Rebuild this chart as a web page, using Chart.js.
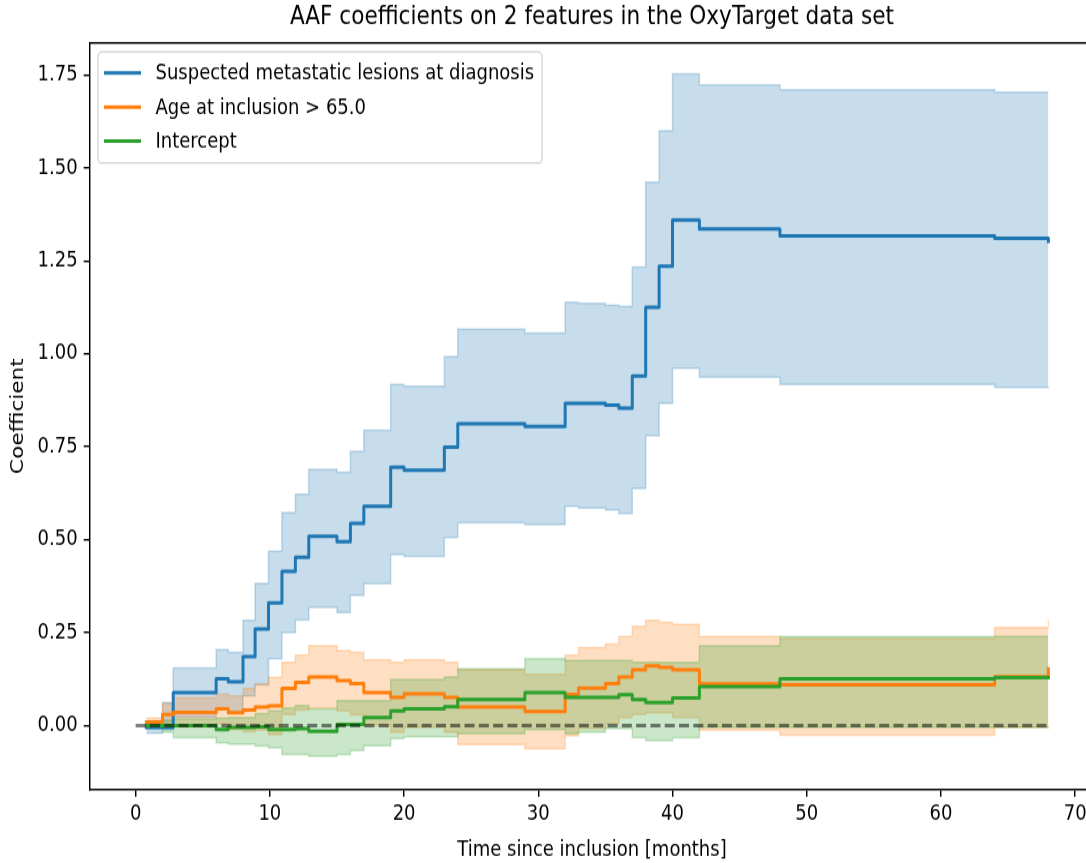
<!DOCTYPE html>
<html>
<head>
<meta charset="utf-8">
<title>AAF coefficients</title>
<script src="https://cdn.jsdelivr.net/npm/chart.js@4.4.0/dist/chart.umd.min.js"></script>
<style>
  html, body { margin: 0; padding: 0; background: #fff; overflow: hidden; width: 1086px; height: 863px; }
  /* the figure is laid out at 1100x719 and shown stretched to the full window height */
  #figure { position: absolute; left: 0; top: 0; width: 1100px; height: 719px;
            transform: scaleY(1.2003); transform-origin: 0 0; }
  canvas { display: block; }
</style>
</head>
<body>
<div id="figure"><canvas id="aaf" width="1100" height="719"></canvas></div>
<script>
// Event times (months) shared by every cumulative coefficient
const months = [0.8, 2.0, 2.8, 6.0, 6.9, 8.0, 8.9, 9.9, 10.9, 11.9, 12.9, 15.0, 16.0, 17.0, 19.0,
                20.0, 23.0, 24.0, 29.0, 32.0, 33.0, 35.0, 36.0, 37.0, 38.0, 39.0, 40.0, 42.0, 48.0, 64.0, 68.0];

// Suspected metastatic lesions at diagnosis
const metastaticCoef  = [-0.005, -0.005, 0.089, 0.126, 0.118, 0.186, 0.260, 0.330, 0.415, 0.453, 0.509, 0.495, 0.544, 0.590, 0.695,
                         0.687, 0.749, 0.812, 0.805, 0.867, 0.867, 0.862, 0.854, 0.940, 1.125, 1.236, 1.360, 1.336, 1.317, 1.311, 1.303];
const metastaticUpper = [0.010, 0.062, 0.155, 0.204, 0.197, 0.283, 0.383, 0.469, 0.573, 0.622, 0.689, 0.681, 0.738, 0.794, 0.918,
                         0.913, 0.993, 1.066, 1.056, 1.139, 1.136, 1.131, 1.128, 1.233, 1.462, 1.600, 1.753, 1.723, 1.710, 1.704, 1.704];
const metastaticLower = [-0.020, -0.010, 0.023, 0.048, 0.039, 0.080, 0.110, 0.180, 0.250, 0.284, 0.318, 0.304, 0.350, 0.382, 0.460,
                         0.455, 0.506, 0.546, 0.541, 0.590, 0.585, 0.580, 0.571, 0.638, 0.780, 0.867, 0.961, 0.937, 0.918, 0.910, 0.907];

// Age at inclusion > 65.0
const ageCoef  = [0.010, 0.030, 0.036, 0.045, 0.035, 0.042, 0.050, 0.053, 0.100, 0.116, 0.131, 0.121, 0.113, 0.089, 0.076,
                  0.086, 0.076, 0.050, 0.038, 0.084, 0.101, 0.113, 0.131, 0.150, 0.161, 0.157, 0.150, 0.112, 0.110, 0.132, 0.153];
const ageUpper = [0.020, 0.060, 0.075, 0.085, 0.080, 0.100, 0.112, 0.130, 0.170, 0.190, 0.215, 0.202, 0.197, 0.177, 0.170,
                  0.177, 0.170, 0.150, 0.138, 0.190, 0.210, 0.220, 0.240, 0.267, 0.283, 0.278, 0.272, 0.240, 0.235, 0.264, 0.285];
const ageLower = [0.000, 0.000, -0.003, 0.005, -0.010, -0.016, -0.012, -0.024, 0.030, 0.042, 0.047, 0.040, 0.029, 0.001, -0.018,
                  -0.005, -0.018, -0.051, -0.062, -0.027, -0.008, 0.006, 0.022, 0.030, 0.035, 0.035, 0.022, -0.012, -0.026, -0.005, -0.008];

// Intercept
const interceptCoef  = [0.000, 0.000, 0.000, -0.010, -0.005, -0.005, -0.003, -0.010, -0.010, -0.008, -0.015, 0.003, 0.003, 0.022, 0.040,
                        0.045, 0.051, 0.070, 0.089, 0.076, 0.076, 0.076, 0.083, 0.070, 0.062, 0.062, 0.074, 0.105, 0.126, 0.129, 0.129];
const interceptUpper = [0.008, 0.015, 0.018, 0.020, 0.022, 0.022, 0.032, 0.040, 0.048, 0.054, 0.045, 0.067, 0.067, 0.067, 0.124,
                        0.124, 0.131, 0.153, 0.180, 0.175, 0.175, 0.175, 0.175, 0.170, 0.170, 0.170, 0.170, 0.215, 0.240, 0.240, 0.240];
const interceptLower = [-0.008, -0.018, -0.032, -0.046, -0.050, -0.050, -0.055, -0.060, -0.077, -0.077, -0.082, -0.077, -0.067, -0.054, -0.035,
                        -0.030, -0.030, -0.022, -0.010, -0.022, -0.018, -0.008, -0.008, -0.032, -0.040, -0.040, -0.032, -0.005, -0.005, -0.005, -0.005];

// Zero reference line span and tick labels
const baselineSpan = [0, 68];
const xTicks = [0, 10, 20, 30, 40, 50, 60, 70];
const yTicks = [0.00, 0.25, 0.50, 0.75, 1.00, 1.25, 1.50, 1.75];

const seriesNames = ['Suspected metastatic lesions at diagnosis', 'Age at inclusion > 65.0', 'Intercept'];
const chartTitle = 'AAF coefficients on 2 features in the OxyTarget data set';
const xTitle = 'Time since inclusion [months]';
const yTitle = 'Coefficient';

// ---- styling ----
const palette = [[31, 119, 180], [255, 127, 14], [44, 160, 44]];
const rgba = (c, a) => `rgba(${c[0]},${c[1]},${c[2]},${a})`;
const FONT = "'DejaVu Sans', 'Liberation Sans', sans-serif";
const LW = 3.0;

const toPoints = (ys) => months.map((m, i) => ({ x: m, y: ys[i] }));

const series = [
  { coef: metastaticCoef, upper: metastaticUpper, lower: metastaticLower },
  { coef: ageCoef,        upper: ageUpper,        lower: ageLower },
  { coef: interceptCoef,  upper: interceptUpper,  lower: interceptLower }
];

const datasets = [];
// confidence bands (drawn beneath every line, blue first)
series.forEach((s, k) => {
  const c = palette[k];
  const bandOrder = 30 - k * 10;
  datasets.push({
    label: seriesNames[k] + ' upper', data: toPoints(s.upper), stepped: 'before',
    borderColor: rgba(c, 0.25), borderWidth: 1.5, backgroundColor: rgba(c, 0.25),
    fill: false, pointRadius: 0, order: bandOrder
  });
  datasets.push({
    label: seriesNames[k] + ' lower', data: toPoints(s.lower), stepped: 'before',
    borderColor: rgba(c, 0.25), borderWidth: 1.5, backgroundColor: rgba(c, 0.25),
    fill: '-1', pointRadius: 0, order: bandOrder
  });
});
// coefficient step lines
series.forEach((s, k) => {
  datasets.push({
    label: seriesNames[k], data: toPoints(s.coef), stepped: 'before',
    borderColor: rgba(palette[k], 1), borderWidth: LW, fill: false, pointRadius: 0,
    borderJoinStyle: 'round', borderCapStyle: 'square', order: 3 - k
  });
});
// dashed zero line
datasets.push({
  label: 'zero', data: baselineSpan.map(x => ({ x, y: 0 })),
  borderColor: 'rgba(0,0,0,0.5)', borderWidth: LW, borderDash: [10, 4.3],
  fill: false, pointRadius: 0, order: 0
});

// spines on top and right of the axes box
const frame = {
  id: 'frame',
  afterDatasetsDraw(chart) {
    const { ctx, chartArea: a } = chart;
    ctx.save();
    ctx.strokeStyle = '#000';
    ctx.lineWidth = 1.44;
    ctx.beginPath();
    ctx.moveTo(a.left, a.top); ctx.lineTo(a.right, a.top); ctx.lineTo(a.right, a.bottom);
    ctx.stroke();
    ctx.restore();
  }
};

// legend box in the upper-left corner of the axes
const legendBox = {
  id: 'legendBox',
  afterDraw(chart) {
    const { ctx, chartArea: a } = chart;
    const x0 = a.left + 8, y0 = a.top + 7.5, w = 444, h = 92.5, r = 3.6;
    ctx.save();
    ctx.beginPath();
    ctx.roundRect(x0, y0, w, h, r);
    ctx.fillStyle = 'rgba(255,255,255,0.8)';
    ctx.fill();
    ctx.strokeStyle = 'rgba(204,204,204,0.8)';
    ctx.lineWidth = 1.4;
    ctx.stroke();
    ctx.font = `18px ${FONT}`;
    ctx.textBaseline = 'middle';
    ctx.textAlign = 'left';
    seriesNames.forEach((name, k) => {
      const yy = y0 + 17.5 + k * 28.35;
      ctx.strokeStyle = rgba(palette[k], 1);
      ctx.lineWidth = LW;
      ctx.lineCap = 'butt';
      ctx.beginPath();
      ctx.moveTo(x0 + 6, yy); ctx.lineTo(x0 + 43, yy);
      ctx.stroke();
      ctx.fillStyle = '#000';
      ctx.fillText(name, x0 + 57.5, yy + 1);
    });
    ctx.restore();
  }
};

Chart.defaults.font.family = FONT;
Chart.defaults.color = '#000';

new Chart(document.getElementById('aaf'), {
  type: 'line',
  data: { datasets },
  options: {
    responsive: false,
    animation: false,
    events: [],
    devicePixelRatio: 1,
    layout: { padding: { left: 0, right: 6, top: 0, bottom: 0 } },
    plugins: {
      legend: { display: false },
      tooltip: { enabled: false },
      title: {
        display: true, text: chartTitle, fullSize: false,
        font: { size: 21.6, weight: 'normal' }, color: '#000',
        padding: { top: 1.2, bottom: 8.7 }
      }
    },
    scales: {
      x: {
        type: 'linear', position: 'bottom', min: -3.4, max: 71.4,
        afterBuildTicks: (s) => { s.ticks = xTicks.map(v => ({ value: v })); },
        afterFit: (s) => { s.height = 61.5; },
        ticks: { font: { size: 18 }, color: '#000', padding: 4, maxRotation: 0,
                 callback: (v) => String(v) },
        grid: { drawOnChartArea: false, drawTicks: true, tickLength: 6.3, color: '#000', lineWidth: 1.44 },
        border: { display: true, color: '#000', width: 1.44 },
        title: { display: true, text: xTitle, font: { size: 18 }, color: '#000', padding: { top: 1.5, bottom: 0 } }
      },
      y: {
        type: 'linear', position: 'left', min: -0.171, max: 1.836,
        afterBuildTicks: (s) => { s.ticks = yTicks.map(v => ({ value: v })); },
        afterFit: (s) => { s.width = 90; },
        ticks: { font: { size: 18 }, color: '#000', padding: 6,
                 callback: (v) => Number(v).toFixed(2) },
        grid: { drawOnChartArea: false, drawTicks: true, tickLength: 6.3, color: '#000', lineWidth: 1.44 },
        border: { display: true, color: '#000', width: 1.44 },
        title: { display: true, text: yTitle, font: { size: 18 }, color: '#000', padding: { top: 7.2, bottom: 0 } }
      }
    }
  },
  plugins: [frame, legendBox]
});
</script>
</body>
</html>
